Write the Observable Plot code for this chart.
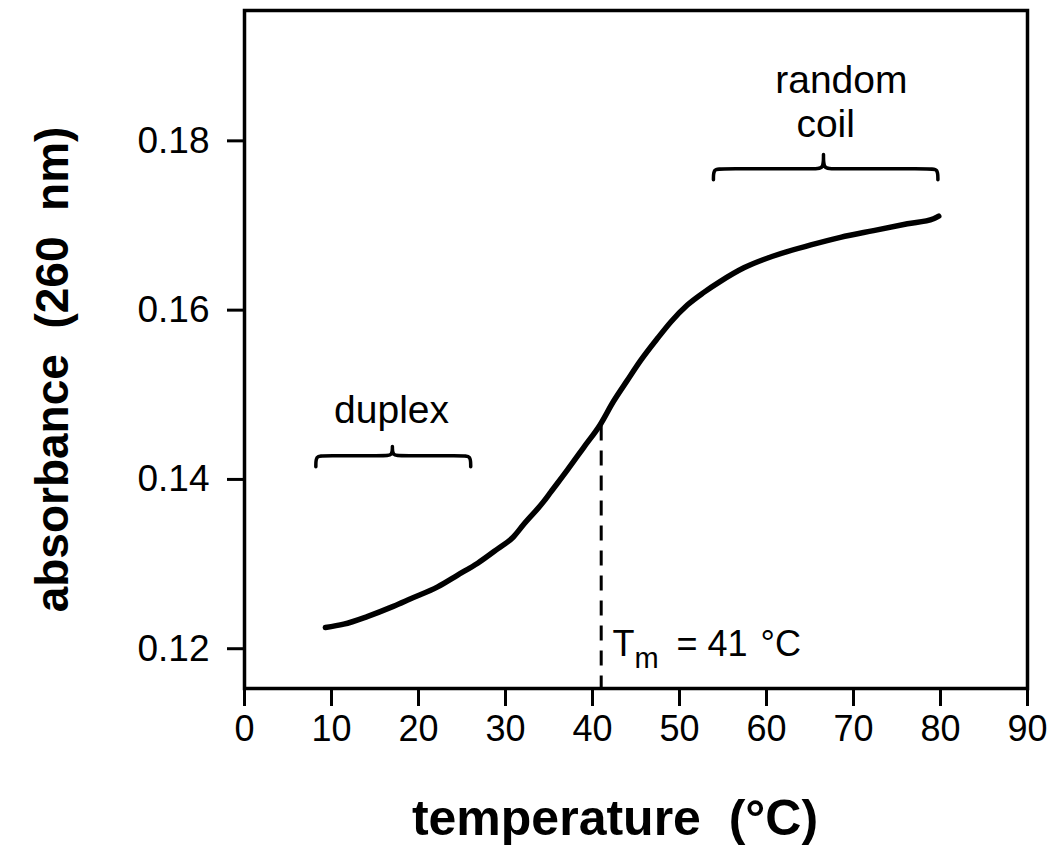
<!DOCTYPE html>
<html><head><meta charset="utf-8">
<script src="https://cdn.jsdelivr.net/npm/d3@7"></script>
<script src="https://cdn.jsdelivr.net/npm/@observablehq/plot@0.6"></script>
<style>body{margin:0;background:#fff;}</style>
</head><body><div id="chart"></div>
<script>
// Melting curve
const temperature = [9.3, 11.4, 14.1, 17.1, 19.1, 22.2, 24.5, 26.8, 29.1, 30.9, 32.1, 34.4, 35.2, 37.1, 39.0, 40.9, 42.4, 44.0, 45.5, 47.5, 49.0, 50.9, 52.8, 54.7, 57.4, 60.8, 65.1, 68.5, 72.3, 76.2, 79.2, 79.8];
const absorbance = [0.1225, 0.1229, 0.1238, 0.1250, 0.1259, 0.1273, 0.1287, 0.1301, 0.1318, 0.1332, 0.1347, 0.1374, 0.1385, 0.1411, 0.1438, 0.1465, 0.1492, 0.1517, 0.1540, 0.1567, 0.1586, 0.1606, 0.1621, 0.1634, 0.1650, 0.1664, 0.1677, 0.1686, 0.1694, 0.1702, 0.1708, 0.1711];

const xTicks = [0, 10, 20, 30, 40, 50, 60, 70, 80, 90];
const yTicks = [0.12, 0.14, 0.16, 0.18];
const xDomain = [0, 90];
const yDomain = [0.1153, 0.1954];

const tmTemp = 41;
const tmAbsorbance = 0.1463;

// Region labels and their braces (start, end, tip temperature, absorbance level)
const regionLabels = ["duplex", "random", "coil"];
const regionLabelX = [16.9, 68.6, 66.8];
const regionLabelY = [0.1467, 0.1857, 0.1805];
const braceStart = [8.2, 53.9];
const braceEnd = [26.0, 79.7];
const braceTip = [17.0, 66.55];
const braceLevel = [0.1428, 0.1767];
const braceTipHeight = [0.0011, 0.0017];

const yTitle = "absorbance\u00a0\u00a0(260\u00a0\u00a0nm)";
const xTitle = "temperature\u00a0\u00a0(°C)";

const curve = temperature.map((t, i) => ({t, a: absorbance[i]}));
const labels = regionLabels.map((s, i) => ({s, x: regionLabelX[i], y: regionLabelY[i]}));

const hook = 0.0013, r = 0.9;
const braces = [];
braceStart.forEach((x1, i) => {
  const x2 = braceEnd[i], xm = braceTip[i], y = braceLevel[i], tip = braceTipHeight[i];
  const pts = [[x1, y - hook], [x1, y], [x1 + r, y], [xm - r, y], [xm, y], [xm, y + tip], [xm, y + tip], [xm, y + tip], [xm, y], [xm + r, y], [x2 - r, y], [x2, y], [x2, y - hook]];
  pts.forEach(([x, yy]) => braces.push({id: i, x, y: yy}));
});

const font = "'Liberation Sans', Arial, Helvetica, sans-serif";

const chart = Plot.plot({
  width: 1050,
  height: 866,
  marginLeft: 244,
  marginRight: 23,
  marginTop: 10,
  marginBottom: 178,
  style: {fontFamily: font, background: "#fff", color: "#000"},
  x: {domain: xDomain, label: null},
  y: {domain: yDomain, label: null},
  marks: [
    Plot.frame({strokeWidth: 3.5}),
    Plot.axisX({ticks: xTicks, tickSize: 18, tickPadding: 9, fontSize: 36, strokeWidth: 3, label: null, tickFormat: d3.format("d")}),
    Plot.axisY({ticks: yTicks, tickSize: 17, tickPadding: 18, fontSize: 37, strokeWidth: 3, label: null, tickFormat: d3.format(".2f")}),
    Plot.line(curve, {x: "t", y: "a", strokeWidth: 5.5, stroke: "#000", curve: "monotone-x"}),
    Plot.ruleX([tmTemp], {y1: tmAbsorbance, y2: yDomain[0], strokeWidth: 3, strokeDasharray: "15,10", stroke: "#000"}),
    Plot.line(braces, {x: "x", y: "y", z: "id", curve: "basis", strokeWidth: 3.5, stroke: "#000"}),
    Plot.text(labels, {x: "x", y: "y", text: "s", textAnchor: "middle", lineAnchor: "bottom", fontSize: 39, fill: "#000"}),
    Plot.text([tmTemp], {x: d => d + 1.3, y: yDomain[0], text: () => "T", textAnchor: "start", lineAnchor: "bottom", dy: -33, fontSize: 36, fill: "#000"}),
    Plot.text([tmTemp], {x: d => d + 1.3, y: yDomain[0], text: () => "m", textAnchor: "start", lineAnchor: "bottom", dx: 22, dy: -21, fontSize: 29, fill: "#000"}),
    Plot.text([tmTemp], {x: d => d + 1.3, y: yDomain[0], text: d => "=\u00a0" + d, textAnchor: "start", lineAnchor: "bottom", dx: 64, dy: -33, fontSize: 36, fill: "#000"}),
    Plot.text([tmTemp], {x: d => d + 1.3, y: yDomain[0], text: () => "°C", textAnchor: "start", lineAnchor: "bottom", dx: 148, dy: -33, fontSize: 36, fill: "#000"}),
    Plot.text([yTitle], {text: d => d, frameAnchor: "left", textAnchor: "middle", lineAnchor: "middle", dx: -191, dy: 20, rotate: -90, fontSize: 46, fontWeight: "bold", fill: "#000"}),
    Plot.text([xTitle], {text: d => d, frameAnchor: "bottom", textAnchor: "middle", lineAnchor: "bottom", dx: -21, dy: 146, fontSize: 50, fontWeight: "bold", fill: "#000"})
  ]
});
document.getElementById("chart").appendChild(chart);
</script>
</body></html>
